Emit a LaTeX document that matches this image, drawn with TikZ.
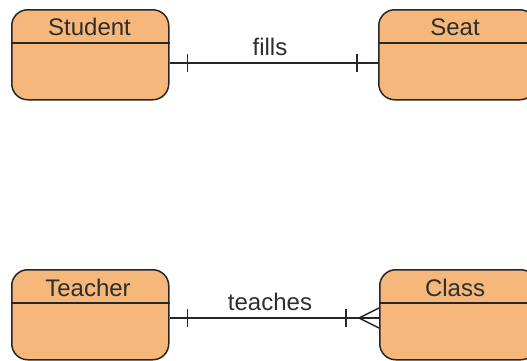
\documentclass[tikz,border=0pt]{standalone}
\usepackage{fontspec}
\setmainfont{Liberation Sans}
\usetikzlibrary{calc}
\definecolor{entfill}{HTML}{F5B77A}
\definecolor{edge}{HTML}{262626}
\definecolor{txt}{HTML}{2E2E2E}
\begin{document}
\begin{tikzpicture}[x=1pt,y=-1pt,
  entity/.style={draw=edge, fill=entfill, rounded corners=16pt, line width=1.5pt,
    minimum width=157pt, minimum height=90pt, anchor=north west, inner sep=0pt},
  divider/.style={draw=edge, line width=1.4pt},
  title/.style={font=\fontsize{24}{26}\selectfont, text=txt, anchor=base, inner sep=0pt},
  conn/.style={draw=edge, line width=1.5pt},
  rel/.style={font=\fontsize{24}{26}\selectfont, text=txt, anchor=base, inner sep=0pt}]
\useasboundingbox (0,0) rectangle (527,360);
\clip (0,0) rectangle (527,360);

% entities
\node[entity] (student) at (11,9) {};
\node[entity] (seat) at (378,9) {};
\node[entity] (teacher) at (11,269) {};
\node[entity] (class) at (379,269) {};

% header dividers
\draw[divider] (student.west |- 0,43) -- (student.east |- 0,43);
\draw[divider] (seat.west |- 0,43) -- (seat.east |- 0,43);
\draw[divider] (teacher.west |- 0,303) -- (teacher.east |- 0,303);
\draw[divider] (class.west |- 0,303) -- (class.east |- 0,303);

% entity names
\node[title] (studentname) at (89.5,35) {Student};
\node[title] (seatname) at (455,35) {Seat};
\node[title] (teachername) at (88,296) {Teacher};
\node[title] (classname) at (455,296) {Class};

% Student -- Seat : one to one
\coordinate (fa) at (student.east |- 0,63);
\coordinate (fb) at (seat.west |- 0,63);
\draw[conn] (fa) -- (fb);
\draw[conn] ($(fa)+(18,-9)$) -- ($(fa)+(18,9)$);
\draw[conn] ($(fb)+(-21,-9)$) -- ($(fb)+(-21,9)$);
\node[rel] (fills) at (270,55) {fills};

% Teacher -- Class : one to many
\coordinate (ta) at (teacher.east |- 0,318);
\coordinate (tb) at (class.west |- 0,318);
\coordinate (tc) at ($(tb)+(-20,0)$);
\draw[conn] (ta) -- (tb);
\draw[conn] ($(ta)+(18,-9)$) -- ($(ta)+(18,9)$);
\draw[conn] ($(tb)+(-33,-9)$) -- ($(tb)+(-33,9)$);
\draw[conn] (class.west |- 0,308) -- (tc) -- (class.west |- 0,328);
\node[rel] (teaches) at (270,310) {teaches};
\end{tikzpicture}
\end{document}
